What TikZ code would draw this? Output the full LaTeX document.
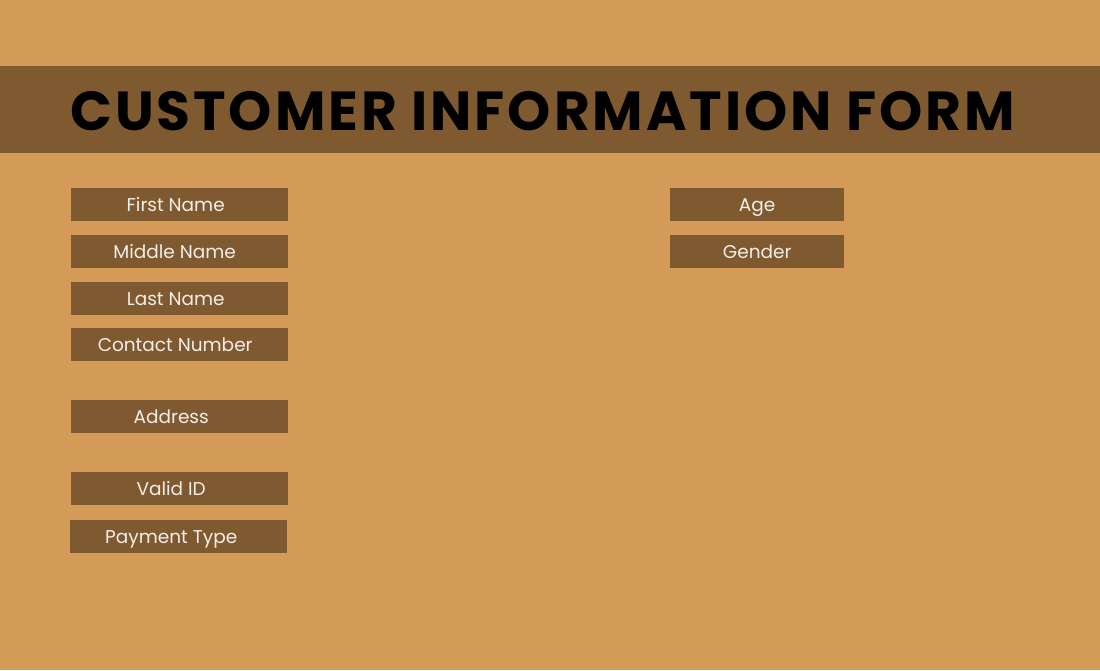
\documentclass[tikz,border=0pt]{standalone}
\usepackage{fontspec}
\setmainfont{Poppins}
\newfontfamily\titlefont[LetterSpace=5.3]{Poppins}
\definecolor{bgc}{HTML}{D39A58}
\definecolor{barc}{HTML}{7F5A31}
\definecolor{txtc}{HTML}{F4EEE8}
\begin{document}
\begin{tikzpicture}[x=1pt,y=-1pt,
  field/.style={fill=barc,draw=none,inner sep=0pt,anchor=north west,
    minimum height=33,text height=15,text depth=2,text=txtc,
    font=\fontsize{18.5}{18.5}\selectfont,align=center},
  wide/.style={field,minimum width=217},
  narrow/.style={field,minimum width=174}]
\useasboundingbox (0,0) rectangle (1100,670);
\fill[bgc] (0,0) rectangle (1100,670);
\fill[barc] (0,66) rectangle (1100,153);
\node[anchor=west,inner sep=0pt,font=\titlefont\bfseries\fontsize{55}{55}\selectfont] (title) at (70,111) {CUSTOMER INFORMATION FORM};
\node[wide] (first) at (71,188) {\hspace*{-8pt}First Name};
\node[wide] (middle) at (71,235) {\hspace*{-10pt}Middle Name};
\node[wide] (last) at (71,282) {\hspace*{-8pt}Last Name};
\node[wide] (contact) at (71,328) {\hspace*{-9pt}Contact Number};
\node[wide] (address) at (71,400) {\hspace*{-17pt}Address};
\node[wide] (validid) at (71,472) {\hspace*{-17pt}Valid ID};
\node[wide] (payment) at (70,520) {\hspace*{-15pt}Payment Type};
\node[narrow] (age) at (670,188) {Age};
\node[narrow] (gender) at (670,235) {Gender};
\end{tikzpicture}
\end{document}
